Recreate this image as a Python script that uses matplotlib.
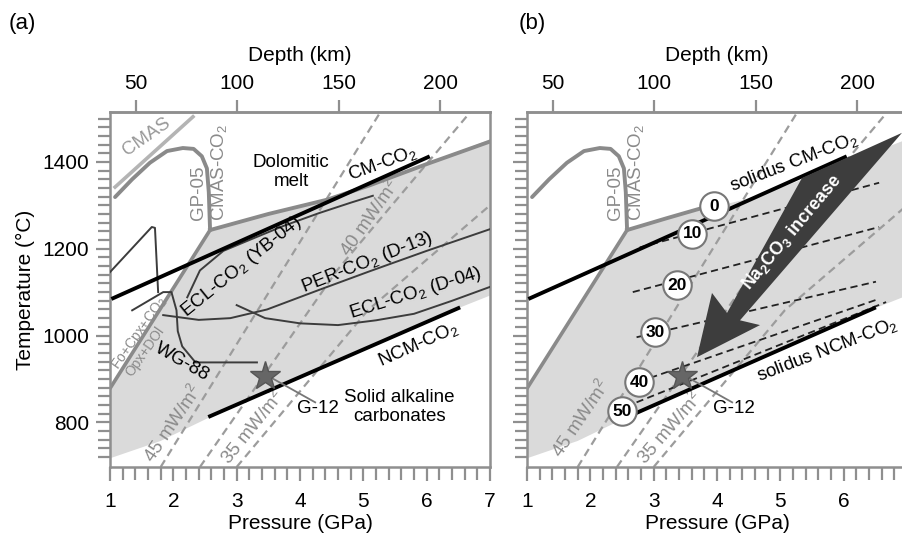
import matplotlib
matplotlib.use('Agg')
import matplotlib.pyplot as plt
import numpy as np

plt.rcParams['font.family'] = ['Liberation Sans', 'DejaVu Sans']
plt.rcParams['mathtext.fontset'] = 'custom'
plt.rcParams['mathtext.rm'] = 'Liberation Sans'
plt.rcParams['mathtext.it'] = 'Liberation Sans:italic'
plt.rcParams['mathtext.bf'] = 'Liberation Sans:bold'

# ---------------- data (P in GPa, T in deg C) ----------------
p_ticks = [1, 2, 3, 4, 5, 6, 7]
t_ticks = [800, 1000, 1200, 1400]
depth_ticks = [50, 100, 150, 200]

# light-grey field
field_p = [1.0, 1.8, 2.58, 6.5, 7.0, 7.0, 6.0, 5.1, 4.43, 3.5, 2.58, 1.0]
field_t = [717, 757, 812, 1063, 1092, 1452, 1395, 1346, 1313, 1280, 1243, 878]

# solidi
cm_p, cm_t = [1.05, 6.02], [1086, 1411]
ncm_a_p, ncm_a_t = [2.58, 6.5], [814, 1063]
ncm_b_p, ncm_b_t = [2.75, 6.48], [823, 1063]
cmasco2_p = [2.58, 3.5, 4.43, 5.1, 6.0, 7.0]
cmasco2_t = [1243, 1280, 1313, 1346, 1395, 1447]
cmasco2_b_p, cmasco2_b_t = [2.58, 3.2, 3.77], [1243, 1270, 1294]
opx_p, opx_t = [1.0, 2.58], [878, 1243]
gp05_p = [1.08, 1.35, 1.63, 1.9, 2.15, 2.32, 2.45, 2.53, 2.56, 2.58]
gp05_t = [1319, 1360, 1398, 1425, 1432, 1430, 1413, 1385, 1330, 1243]
cmas_p, cmas_t = [1.08, 2.31], [1342, 1504]

# thin curves panel (a)
yb04_p = [2.22, 2.42, 2.79, 3.2, 3.73, 4.3, 4.8, 5.15]
yb04_t = [1088, 1150, 1195, 1220, 1252, 1282, 1306, 1322]
d13_p = [1.84, 2.4, 2.9, 3.48, 4.3, 5.1, 6.0, 7.0]
d13_t = [1047, 1036, 1040, 1060, 1105, 1148, 1195, 1245]
d04_p = [3.0, 3.45, 4.0, 4.6, 5.2, 5.8, 6.4, 7.0]
d04_t = [1070, 1040, 1028, 1024, 1035, 1050, 1080, 1112]
wg88_p = [1.35, 1.84, 1.97, 2.05, 2.07, 2.14, 2.35, 3.32]
wg88_t = [1058, 1100, 1100, 1058, 1010, 975, 938, 938]
hook_p = [1.0, 1.66, 1.71, 1.76]
hook_t = [1146, 1250, 1248, 1100]

# geotherms
geo45_p, geo45_t = [1.80, 5.27], [697, 1515]
geo40_p, geo40_t = [2.42, 4.59, 6.69], [697, 1151, 1515]
geo35_p, geo35_t = [3.0, 5.07, 7.0], [697, 1058, 1300]

# G-12 experiment
star_p, star_t = 3.45, 906
g12_line_p, g12_line_t = [3.53, 4.24], [904, 846]

# Na2CO3 isopleths (mol%) panel (b)
iso_labels = ['0', '10', '20', '30', '40', '50']
iso_circ_p = [3.95, 3.61, 3.37, 3.02, 2.77, 2.50]
iso_circ_t = [1298, 1234, 1116, 1008, 892, 825]
iso_p0 = [2.78, 2.67, 2.73, 2.60, 2.73]
iso_t0 = [1203, 1100, 996, 885, 846]
iso_p1 = [6.56, 6.56, 6.51, 6.51, 6.67]
iso_t1 = [1352, 1250, 1124, 1082, 1077]

# arrow outline
arrow_p = [3.684, 3.921, 4.158, 5.342, 6.921, 4.363, 4.679]
arrow_t = [950, 1098, 1052, 1363, 1467, 1035, 1024]

# ---------------- styling ----------------
GREY_FILL = '#dadada'
GREY_LINE = '#8a8a8a'
SPINE = '#8f8f8f'
DARK = '#3c3c3c'
FS = 15
FL = 13.5


def p2d(p):
    return (np.asarray(p) + 0.195) / 0.03206


def d2p(d):
    return 0.03206 * np.asarray(d) - 0.195


fig = plt.figure(figsize=(9.02, 5.40), dpi=100)
axa = fig.add_axes([110 / 902, 73 / 540, 380 / 902, 355 / 540])
axb = fig.add_axes([527 / 902, 73 / 540, 380 / 902, 355 / 540])


def frame(ax, left_labels):
    ax.set_xlim(1, 7)
    ax.set_ylim(697, 1515)
    ax.set_xticks(p_ticks)
    ax.set_xticks(np.arange(1, 7.01, 0.2), minor=True)
    ax.set_yticks(t_ticks)
    ax.set_yticks(np.arange(720, 1501, 20), minor=True)
    for s in ax.spines.values():
        s.set_color(SPINE)
        s.set_linewidth(1.8)
    ax.tick_params(which='both', direction='out', color=SPINE, width=1.6,
                   labelsize=FS, top=False, right=False)
    ax.tick_params(which='major', length=10)
    ax.tick_params(which='minor', length=9)
    ax.tick_params(axis='x', pad=8)
    ax.tick_params(axis='y', pad=5)
    if not left_labels:
        ax.tick_params(axis='y', labelleft=False)
    ax.set_xlabel('Pressure (GPa)', fontsize=FS, labelpad=2)
    sec = ax.secondary_xaxis('top', functions=(p2d, d2p))
    sec.set_xticks(depth_ticks)
    sec.tick_params(direction='out', length=9, width=1.6, color=SPINE,
                    labelsize=FS, pad=5)
    sec.xaxis.set_minor_locator(matplotlib.ticker.NullLocator())
    sec.spines['top'].set_color(SPINE)
    sec.spines['top'].set_linewidth(1.8)
    sec.set_xlabel('Depth (km)', fontsize=FS, labelpad=9)


frame(axa, True)
frame(axb, False)
axa.set_ylabel('Temperature (\u00b0C)', fontsize=FS, labelpad=5)


def common(ax):
    ax.fill(field_p, field_t, color=GREY_FILL, lw=0, zorder=0)
    for gp, gt in [(geo45_p, geo45_t), (geo40_p, geo40_t), (geo35_p, geo35_t)]:
        ax.plot(gp, gt, color='#9c9c9c', lw=1.6, dashes=(3.6, 2.3), zorder=1)
    ax.plot(opx_p, opx_t, color=GREY_LINE, lw=2.6, zorder=2, solid_capstyle='round')
    ax.plot(gp05_p, gp05_t, color=GREY_LINE, lw=2.8, zorder=2, solid_capstyle='round')
    ax.plot(cm_p, cm_t, color='black', lw=2.8, zorder=4)
    ax.plot(star_p, star_t, marker='*', ms=22, color='#666666', mec='#555555', zorder=6)
    ax.plot(g12_line_p, g12_line_t, color='#777777', lw=1.3, zorder=5)
    ax.text(2.39, 1328, 'GP-05', rotation=90, color='#8a8a8a', fontsize=FL,
            ha='center', va='center')
    ax.text(2.72, 1377, 'CMAS-CO$_2$', rotation=90, color='#8a8a8a', fontsize=FL,
            ha='center', va='center')


common(axa)
common(axb)

# ---------------- panel (a) ----------------
ax = axa
ax.plot(cmasco2_p, cmasco2_t, color=GREY_LINE, lw=2.8, zorder=3)
ax.plot(cmas_p, cmas_t, color='#b4b4b4', lw=2.6, zorder=2)
ax.plot(ncm_a_p, ncm_a_t, color='black', lw=2.8, zorder=4)
for cp, ct in [(yb04_p, yb04_t), (d13_p, d13_t), (d04_p, d04_t), (wg88_p, wg88_t), (hook_p, hook_t)]:
    ax.plot(cp, ct, color=DARK, lw=1.4, zorder=3)

ax.text(1.585, 1458, 'CMAS', rotation=35, color='#999999', fontsize=FL,
        ha='center', va='center', rotation_mode='anchor')
ax.text(3.86, 1377, 'Dolomitic\nmelt', ha='center', va='center', fontsize=FL,
        linespacing=1.15)
ax.text(5.30, 1397, 'CM-CO$_2$', rotation=20, ha='center', va='center', fontsize=FL,
        rotation_mode='anchor')
ax.text(3.07, 1158, 'ECL-CO$_2$ (YB-04)', rotation=39, ha='center', va='center',
        fontsize=FL, rotation_mode='anchor')
ax.text(5.06, 1167, 'PER-CO$_2$ (D-13)', rotation=21.5, ha='center', va='center',
        fontsize=FL, rotation_mode='anchor')
ax.text(5.83, 1098, 'ECL-CO$_2$ (D-04)', rotation=17.5, ha='center', va='center',
        fontsize=FL, rotation_mode='anchor')
ax.text(5.87, 980, 'NCM-CO$_2$', rotation=24, ha='center', va='center',
        fontsize=FL, rotation_mode='anchor')
ax.text(2.14, 938, 'WG-88', rotation=-30, ha='center', va='center', fontsize=FL,
        rotation_mode='anchor')
ax.text(1.46, 1005, 'Fo+Cpx+CO$_2$', rotation=55, ha='center', va='center',
        fontsize=10, color='#8a8a8a', rotation_mode='anchor')
ax.text(1.56, 963, 'Opx+DOl', rotation=55, ha='center', va='center',
        fontsize=10, color='#8a8a8a', rotation_mode='anchor')
ax.text(4.29, 832, 'G-12', ha='center', va='center', fontsize=FL)
ax.text(5.57, 835, 'Solid alkaline\ncarbonates', ha='center', va='center',
        fontsize=FL, linespacing=1.1)
ax.text(1.995, 798, '45 mW/m$^2$', rotation=56, ha='center', va='center',
        fontsize=FL, color='#8a8a8a', rotation_mode='anchor')
ax.text(3.26, 788, '35 mW/m$^2$', rotation=51, ha='center', va='center',
        fontsize=FL, color='#8a8a8a', rotation_mode='anchor')
ax.text(5.11, 1271, '40 mW/m$^2$', rotation=55, ha='center', va='center',
        fontsize=FL, color='#8a8a8a', rotation_mode='anchor')

# ---------------- panel (b) ----------------
ax = axb
ax.plot(cmasco2_b_p, cmasco2_b_t, color=GREY_LINE, lw=2.8, zorder=3)
ax.plot(ncm_b_p, ncm_b_t, color='black', lw=2.8, zorder=4)
for a0, b0, a1, b1 in zip(iso_p0, iso_t0, iso_p1, iso_t1):
    ax.plot([a0, a1], [b0, b1], color='#222222', lw=1.3, dashes=(4.0, 2.4), zorder=3)
ax.fill(arrow_p, arrow_t, color='#3d3d3d', lw=0, zorder=5)
ax.text(5.18, 1238, 'Na$_\\mathbf{2}$CO$_\\mathbf{3}$ increase', rotation=50,
        ha='center', va='center', color='white', fontsize=13, fontweight='bold',
        rotation_mode='anchor', zorder=6)
ax.scatter(iso_circ_p, iso_circ_t, s=420, facecolor='white', edgecolor='#777777',
           lw=1.5, zorder=7)
for lab, cp, ct in zip(iso_labels, iso_circ_p, iso_circ_t):
    ax.text(cp, ct, lab, ha='center', va='center', fontsize=12.5,
            fontweight='bold', zorder=8)
ax.text(5.22, 1398, 'solidus CM-CO$_2$', rotation=21, ha='center', va='center',
        fontsize=FL, rotation_mode='anchor', zorder=9)
ax.text(5.74, 966, 'solidus NCM-CO$_2$', rotation=21, ha='center', va='center',
        fontsize=FL, rotation_mode='anchor')
ax.text(4.27, 832, 'G-12', ha='center', va='center', fontsize=FL)
ax.text(1.85, 809, '45 mW/m$^2$', rotation=56, ha='center', va='center',
        fontsize=FL, color='#8a8a8a', rotation_mode='anchor')
ax.text(3.26, 786, '35 mW/m$^2$', rotation=49, ha='center', va='center',
        fontsize=FL, color='#8a8a8a', rotation_mode='anchor')

fig.text(22 / 902, 1 - 24 / 540, '(a)', ha='center', va='center', fontsize=16)
fig.text(532 / 902, 1 - 24 / 540, '(b)', ha='center', va='center', fontsize=16)

fig.savefig('out.png', dpi=100)
